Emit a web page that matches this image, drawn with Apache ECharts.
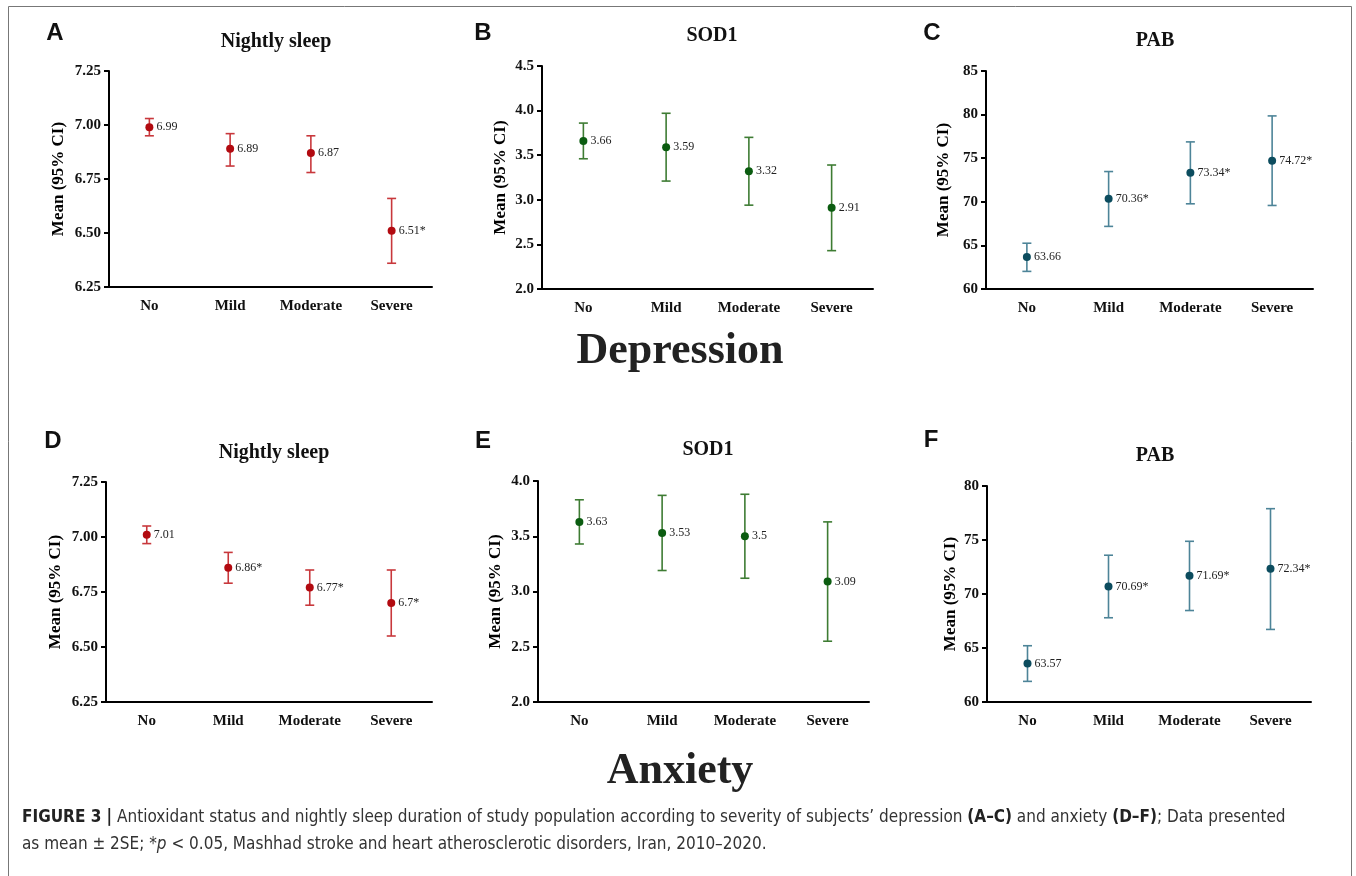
<!DOCTYPE html>
<html>
<head>
  <meta charset="utf-8">
  <title>Figure 3</title>
  <script src="https://cdn.jsdelivr.net/npm/echarts@6/dist/echarts.min.js"></script>
  <style>
    html, body { margin: 0; padding: 0; background: #fff; }
  </style>
</head>
<body>
  <div id="main" style="width:1356px;height:876px;"></div>
  <script type="text/javascript">
    // data
    var categories = ['No', 'Mild', 'Moderate', 'Severe'];

    // depression panels (A-C)
    var sleepDepMean = [6.99, 6.89, 6.87, 6.51];
    var sleepDepLow = [6.95, 6.81, 6.78, 6.36];
    var sleepDepHigh = [7.03, 6.96, 6.95, 6.66];
    var sleepDepStar = [0, 0, 0, 1];

    var sodDepMean = [3.66, 3.59, 3.32, 2.91];
    var sodDepLow = [3.46, 3.21, 2.94, 2.43];
    var sodDepHigh = [3.86, 3.97, 3.70, 3.39];
    var sodDepStar = [0, 0, 0, 0];

    var pabDepMean = [63.66, 70.36, 73.34, 74.72];
    var pabDepLow = [62.02, 67.18, 69.77, 69.58];
    var pabDepHigh = [65.25, 73.47, 76.87, 79.85];
    var pabDepStar = [0, 1, 1, 1];

    // anxiety panels (D-F)
    var sleepAnxMean = [7.01, 6.86, 6.77, 6.7];
    var sleepAnxLow = [6.97, 6.79, 6.69, 6.55];
    var sleepAnxHigh = [7.05, 6.93, 6.85, 6.85];
    var sleepAnxStar = [0, 1, 1, 1];

    var sodAnxMean = [3.63, 3.53, 3.5, 3.09];
    var sodAnxLow = [3.43, 3.19, 3.12, 2.55];
    var sodAnxHigh = [3.83, 3.87, 3.88, 3.63];
    var sodAnxStar = [0, 0, 0, 0];

    var pabAnxMean = [63.57, 70.69, 71.69, 72.34];
    var pabAnxLow = [61.91, 67.80, 68.47, 66.72];
    var pabAnxHigh = [65.21, 73.59, 74.88, 77.90];
    var pabAnxStar = [0, 1, 1, 1];

    var serif = '"Liberation Serif", "Times New Roman", serif';
    var sans = '"Liberation Sans", Arial, sans-serif';

    var RED = { dot: '#b20a10', bar: '#c8383c' };
    var GREEN = { dot: '#0b5c10', bar: '#3e7c33' };
    var TEAL = { dot: '#0c4c5e', bar: '#4d8498' };

    var panels = [
      { letter: 'A', title: 'Nightly sleep', mean: sleepDepMean, low: sleepDepLow, high: sleepDepHigh, star: sleepDepStar,
        min: 6.25, max: 7.25, step: 0.25, dec: 2, col: RED,
        grid: { left: 109, top: 71, width: 323, height: 216 }, gap: 42, titleX: 271, titleY: 27, letterX: 55, letterY: 33 },
      { letter: 'B', title: 'SOD1', mean: sodDepMean, low: sodDepLow, high: sodDepHigh, star: sodDepStar,
        min: 2.0, max: 4.5, step: 0.5, dec: 1, col: GREEN,
        grid: { left: 542, top: 66, width: 331, height: 223 }, gap: 33, titleX: 707, titleY: 21, letterX: 483, letterY: 33 },
      { letter: 'C', title: 'PAB', mean: pabDepMean, low: pabDepLow, high: pabDepHigh, star: pabDepStar,
        min: 60, max: 85, step: 5, dec: 0, col: TEAL,
        grid: { left: 986, top: 71, width: 327, height: 218 }, gap: 34, titleX: 1150, titleY: 26, letterX: 932, letterY: 33 },
      { letter: 'D', title: 'Nightly sleep', mean: sleepAnxMean, low: sleepAnxLow, high: sleepAnxHigh, star: sleepAnxStar,
        min: 6.25, max: 7.25, step: 0.25, dec: 2, col: RED,
        grid: { left: 106, top: 482, width: 326, height: 220 }, gap: 42, titleX: 269, titleY: 438, letterX: 53, letterY: 441 },
      { letter: 'E', title: 'SOD1', mean: sodAnxMean, low: sodAnxLow, high: sodAnxHigh, star: sodAnxStar,
        min: 2.0, max: 4.0, step: 0.5, dec: 1, col: GREEN,
        grid: { left: 538, top: 481, width: 331, height: 221 }, gap: 34, titleX: 703, titleY: 435, letterX: 483, letterY: 441 },
      { letter: 'F', title: 'PAB', mean: pabAnxMean, low: pabAnxLow, high: pabAnxHigh, star: pabAnxStar,
        min: 60, max: 80, step: 5, dec: 0, col: TEAL,
        grid: { left: 987, top: 486, width: 324, height: 216 }, gap: 28, titleX: 1150, titleY: 441, letterX: 931, letterY: 440 }
    ];

    function errorBar(params, api) {
      var lo = api.coord([api.value(0), api.value(1)]);
      var hi = api.coord([api.value(0), api.value(2)]);
      var w = 4.5;
      var style = { stroke: api.visual('color'), lineWidth: 1.6 };
      return {
        type: 'group',
        children: [
          { type: 'line', shape: { x1: hi[0], y1: hi[1], x2: lo[0], y2: lo[1] }, style: style },
          { type: 'line', shape: { x1: hi[0] - w, y1: hi[1], x2: hi[0] + w, y2: hi[1] }, style: style },
          { type: 'line', shape: { x1: lo[0] - w, y1: lo[1], x2: lo[0] + w, y2: lo[1] }, style: style }
        ]
      };
    }

    var grids = [], xAxes = [], yAxes = [], series = [], titles = [];
    var graphics = [
      { type: 'rect', shape: { x: 8.5, y: 6.5, width: 1343, height: 900 },
        style: { fill: 'none', stroke: '#777', lineWidth: 1 }, silent: true }
    ];

    panels.forEach(function (p, i) {
      grids.push(p.grid);
      xAxes.push({
        type: 'category', gridIndex: i, data: categories,
        axisLine: { lineStyle: { color: '#000', width: 2 } },
        axisTick: { alignWithLabel: true, length: 6, lineStyle: { color: '#000', width: 2 } },
        axisLabel: { interval: 0, color: '#111', fontFamily: serif, fontWeight: 'bold', fontSize: 15, margin: 12 },
        splitLine: { show: false }
      });
      yAxes.push({
        type: 'value', gridIndex: i, min: p.min, max: p.max, interval: p.step,
        name: 'Mean (95% CI)', nameLocation: 'middle', nameGap: p.gap,
        nameTextStyle: { color: '#000', fontFamily: serif, fontWeight: 'bold', fontSize: 17 },
        axisLine: { show: true, lineStyle: { color: '#000', width: 2 } },
        axisTick: { show: true, length: 5, lineStyle: { color: '#000', width: 2 } },
        axisLabel: {
          color: '#111', fontFamily: serif, fontWeight: 'bold', fontSize: 15, margin: 8,
          formatter: function (v) { return v.toFixed(p.dec); }
        },
        splitLine: { show: false }
      });
      series.push({
        type: 'custom', xAxisIndex: i, yAxisIndex: i,
        renderItem: errorBar,
        itemStyle: { color: p.col.bar },
        encode: { x: 0, y: [1, 2] },
        data: categories.map(function (c, k) { return [k, p.low[k], p.high[k]]; }),
        z: 2
      });
      series.push({
        type: 'scatter', xAxisIndex: i, yAxisIndex: i,
        symbolSize: 8,
        itemStyle: { color: p.col.dot, opacity: 1 },
        label: {
          show: true, position: 'right', distance: 3,
          color: '#222', fontFamily: serif, fontSize: 12,
          formatter: function (d) { return String(p.mean[d.dataIndex]) + (p.star[d.dataIndex] ? '*' : ''); }
        },
        data: p.mean,
        z: 3
      });
      titles.push({
        text: p.title, left: p.titleX, top: p.titleY, textAlign: 'center',
        textStyle: { color: '#111', fontFamily: serif, fontWeight: 'bold', fontSize: 20 }
      });
      graphics.push({
        type: 'text', x: p.letterX, y: p.letterY,
        style: { text: p.letter, fill: '#111', font: 'bold 24px ' + sans, textAlign: 'center', textVerticalAlign: 'middle' }
      });
    });

    graphics.push({
      type: 'text', x: 680, y: 352,
      style: { text: 'Depression', fill: '#222', font: 'bold 44px ' + serif, textAlign: 'center', textVerticalAlign: 'middle' }
    });
    graphics.push({
      type: 'text', x: 680, y: 772,
      style: { text: 'Anxiety', fill: '#222', font: 'bold 44px ' + serif, textAlign: 'center', textVerticalAlign: 'middle' }
    });

    var capFont = '"Liberation Sans Narrow", "DejaVu Sans Condensed", Arial, sans-serif';
    graphics.push({
      type: 'text', x: 22, y: 818,
      style: {
        text: '{b|FIGURE 3 |} Antioxidant status and nightly sleep duration of study population according to severity of subjects\u2019 depression {b|(A\u2013C)} and anxiety {b|(D\u2013F)}; Data presented',
        fill: '#333', fontFamily: capFont, fontSize: 17, textVerticalAlign: 'middle',
        rich: { b: { fontFamily: capFont, fontSize: 17, fontWeight: 'bold', fill: '#222' } }
      }
    });
    graphics.push({
      type: 'text', x: 22, y: 845,
      style: {
        text: 'as mean \u00b1 2SE; *{i|p} < 0.05, Mashhad stroke and heart atherosclerotic disorders, Iran, 2010\u20132020.',
        fill: '#333', fontFamily: capFont, fontSize: 17, textVerticalAlign: 'middle',
        rich: { i: { fontFamily: capFont, fontSize: 17, fontStyle: 'italic', fill: '#333' } }
      }
    });

    var myChart = echarts.init(document.getElementById('main'));
    myChart.setOption({
      backgroundColor: '#fff',
      animation: false,
      title: titles,
      grid: grids,
      xAxis: xAxes,
      yAxis: yAxes,
      series: series,
      graphic: graphics
    });
  </script>
</body>
</html>
